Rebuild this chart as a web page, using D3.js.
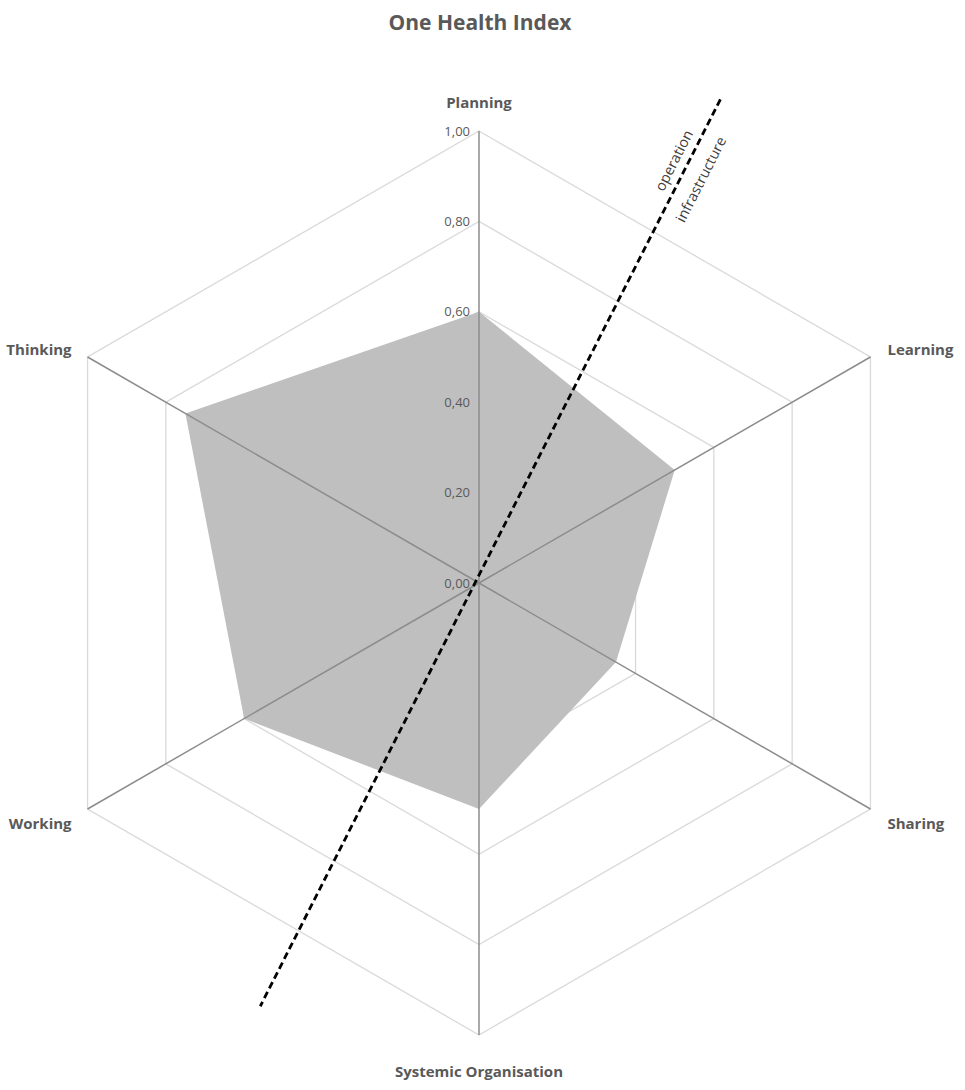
<!DOCTYPE html>
<html><head><meta charset="utf-8">
<script src="https://cdn.jsdelivr.net/npm/d3@7"></script>
<style>body{margin:0;background:#fff}svg{display:block}</style>
</head><body>
<svg id="c" width="965" height="1090"></svg>
<script>
const categories = ["Planning","Learning","Sharing","Systemic Organisation","Working","Thinking"];
const values = [0.60, 0.50, 0.35, 0.50, 0.60, 0.75];
const ticks = [0, 0.2, 0.4, 0.6, 0.8, 1.0];
const tickLabels = ["0,00","0,20","0,40","0,60","0,80","1,00"];
const dividerLabels = ["operation","infrastructure"];

const svg = d3.select("#c");
const cx = 479, cy = 583, R = 452;
const r = d3.scaleLinear().domain([0,1]).range([0,R]);
const ang = i => -Math.PI/2 + i*2*Math.PI/categories.length;
const pt = (i,v) => [cx + r(v)*Math.cos(ang(i)), cy + r(v)*Math.sin(ang(i))];
const font = "'Open Sans', 'Noto Sans', sans-serif";

svg.append("text").attr("x",480).attr("y",30).attr("text-anchor","middle")
  .attr("font-family",font).attr("font-weight","bold").attr("font-size",21)
  .attr("fill","#595959").text("One Health Index");

const line = d3.line().curve(d3.curveLinearClosed);
ticks.slice(1).forEach(t=>{
  svg.append("path").attr("d", line(categories.map((c,i)=>pt(i,t))))
    .attr("fill","none").attr("stroke","#d9d9d9").attr("stroke-width",1.3);
});
svg.append("path").attr("d", line(values.map((v,i)=>pt(i,v))))
  .attr("fill","#bfbfbf").attr("stroke","none");
categories.forEach((c,i)=>{
  const [x,y]=pt(i,1);
  svg.append("line").attr("x1",cx).attr("y1",cy).attr("x2",x).attr("y2",y)
    .attr("stroke","#8c8c8c").attr("stroke-width",1.5);
});
ticks.forEach((t,k)=>{
  svg.append("text").attr("x",cx-9).attr("y",cy - r(t)+4.5).attr("text-anchor","end")
    .attr("font-family",font).attr("font-size",13).attr("fill","#595959").text(tickLabels[k]);
});
const labelPos = [
  {dx:0, dy:-23, anchor:"middle"},
  {dx:17, dy:-2, anchor:"start"},
  {dx:17, dy:20, anchor:"start"},
  {dx:0, dy:42, anchor:"middle"},
  {dx:-16, dy:20, anchor:"end"},
  {dx:-16, dy:-2, anchor:"end"}
];
categories.forEach((c,i)=>{
  const [x,y]=pt(i,1);
  svg.append("text").attr("x",x+labelPos[i].dx).attr("y",y+labelPos[i].dy)
    .attr("text-anchor",labelPos[i].anchor)
    .attr("font-family",font).attr("font-weight","bold").attr("font-size",15)
    .attr("fill","#595959").text(c);
});
const dAng = -63.1*Math.PI/180;
const ux = Math.cos(dAng), uy = Math.sin(dAng);
const x1 = cx-4 + r(1.2)*ux, y1 = cy + r(1.2)*uy;
const x2 = cx-4 - r(1.05)*ux, y2 = cy - r(1.05)*uy;
svg.append("line").attr("x1",x1).attr("y1",y1).attr("x2",x2).attr("y2",y2)
  .attr("stroke","#000").attr("stroke-width",2.8).attr("stroke-dasharray","7,4");
const rot = dAng*180/Math.PI;
[[675,161],[702,180]].forEach((p,k)=>{
  svg.append("text").attr("transform",`translate(${p[0]},${p[1]}) rotate(${rot})`)
    .attr("text-anchor","middle").attr("dominant-baseline","middle")
    .attr("font-family",font).attr("font-size",14.5).attr("fill","#404040").text(dividerLabels[k]);
});
</script>
</body></html>
